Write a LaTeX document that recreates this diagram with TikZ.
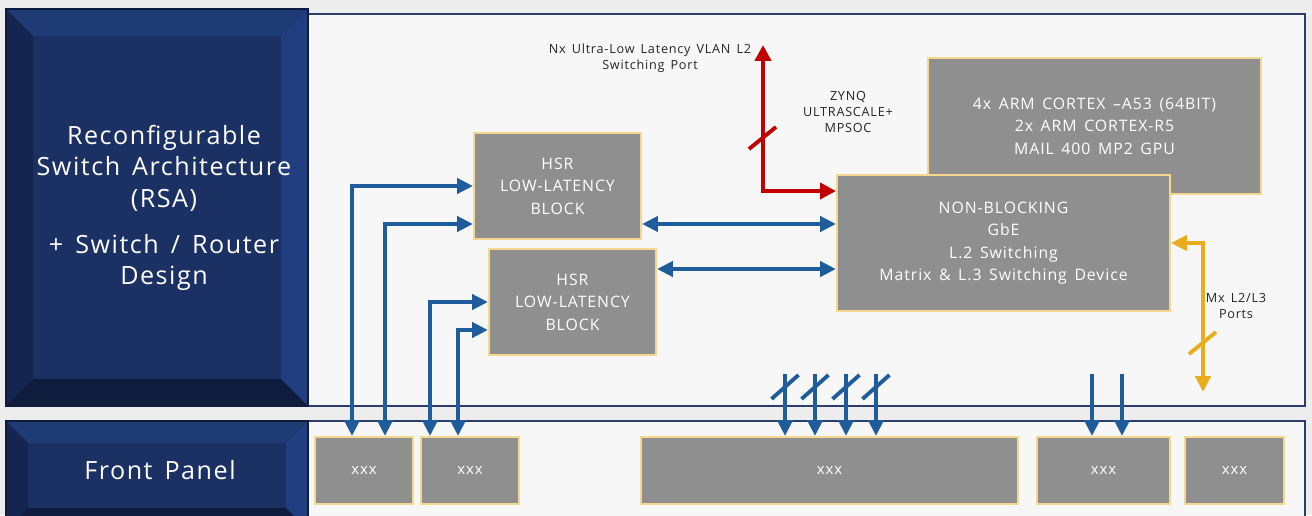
\documentclass[tikz,border=0pt]{standalone}
\usepackage{fontspec}
\setmainfont{Open Sans}[LetterSpace=6, WordSpace=1.5]
\usetikzlibrary{arrows.meta}

\definecolor{navy}{HTML}{1B3163}
\definecolor{navytop}{HTML}{1F3B76}
\definecolor{navyright}{HTML}{213F80}
\definecolor{navyleft}{HTML}{14254F}
\definecolor{navybottom}{HTML}{0F1C3E}
\definecolor{panelrim}{HTML}{2B3D6B}
\definecolor{boxgray}{HTML}{8F8F8F}
\definecolor{boxrim}{HTML}{F5D78E}
\definecolor{linkblue}{HTML}{1F5C9B}
\definecolor{linkred}{HTML}{C00000}
\definecolor{linkgold}{HTML}{E8AC1C}

\tikzset{
    graybox/.style={draw=boxrim, fill=boxgray, line width=1.2pt, text=white,
        align=center, inner sep=0pt, font=\fontsize{9}{12.8}\selectfont},
    portbox/.style={graybox, minimum height=1.34cm, font=\fontsize{8.5}{10}\selectfont},
    bluelink/.style={draw=linkblue, line width=2.5pt, {Triangle[width=8.5pt,length=9pt]}-{Triangle[width=8.5pt,length=9pt]}},
    bluein/.style={draw=linkblue, line width=2.5pt, -{Triangle[width=8.5pt,length=9pt]}},
    redlink/.style={draw=linkred, line width=2.8pt, {Triangle[width=9pt,length=9pt]}-{Triangle[width=9pt,length=9pt]}},
    goldlink/.style={draw=linkgold, line width=2.5pt, {Triangle[width=8.5pt,length=9pt]}-{Triangle[width=8.5pt,length=9pt]}},
    slash/.style={line width=2.2pt},
    smalllabel/.style={align=center, text=black!85, font=\fontsize{7.2}{9}\selectfont},
    titletext/.style={text=white, align=center, font=\fontsize{14.3}{18}\selectfont}
}

\begin{document}
\begin{tikzpicture}[x=0.02cm, y=-0.02cm]
    \useasboundingbox (0,0) rectangle (1312,515);
    \fill[black!7] (0,0) rectangle (1312,515);

    % panels
    \draw[panelrim, fill=white!97!black, line width=1.2pt] (308,14) rectangle (1305,406);
    \draw[panelrim, fill=white!97!black, line width=1.2pt] (308,421) rectangle (1305,530);

    % bevelled title boxes
    \begin{scope}
        \fill[navy] (6,9) rectangle (308,406);
        \fill[navytop] (6,9) -- (308,9) -- (281,36) -- (33,36) -- cycle;
        \fill[navyright] (308,9) -- (308,406) -- (281,379) -- (281,36) -- cycle;
        \fill[navyleft] (6,9) -- (33,36) -- (33,379) -- (6,406) -- cycle;
        \fill[navybottom] (6,406) -- (33,379) -- (281,379) -- (308,406) -- cycle;
        \draw[navybottom, line width=0.8pt] (6,9) rectangle (308,406);

        \fill[navy] (6,421) rectangle (308,530);
        \fill[navytop] (6,421) -- (308,421) -- (286,443) -- (28,443) -- cycle;
        \fill[navyright] (308,421) -- (308,530) -- (286,508) -- (286,443) -- cycle;
        \fill[navyleft] (6,421) -- (28,443) -- (28,508) -- (6,530) -- cycle;
        \fill[navybottom] (6,530) -- (28,508) -- (286,508) -- (308,530) -- cycle;
        \draw[navybottom, line width=0.8pt] (6,421) rectangle (308,530);
    \end{scope}

    \node (rsa) [titletext] at (164,208)
        {Reconfigurable\\Switch Architecture\\(RSA)\\[8pt]+ Switch / Router\\Design};
    \node (front) [titletext] at (160,470) {Front Panel};

    % blocks
    \node (arm) [graybox, minimum width=6.66cm, minimum height=2.72cm] at (1094.5,126)
        {4x ARM CORTEX –A53 (64BIT)\\2x ARM CORTEX-R5\\MAIL 400 MP2 GPU};
    \node (nb) [graybox, minimum width=6.66cm, minimum height=2.72cm] at (1003.5,243)
        {NON-BLOCKING\\GbE\\L.2 Switching\\Matrix \& L.3 Switching Device};
    \node (hsrA) [graybox, minimum width=3.34cm, minimum height=2.12cm] at (557.5,186)
        {HSR\\LOW-LATENCY\\BLOCK};
    \node (hsrB) [graybox, minimum width=3.34cm, minimum height=2.12cm] at (572.5,302)
        {HSR\\LOW-LATENCY\\BLOCK};

    \node (xxxA) [portbox, minimum width=1.96cm] at (364,470.5) {xxx};
    \node (xxxB) [portbox, minimum width=1.96cm] at (470,470.5) {xxx};
    \node (xxxC) [portbox, minimum width=7.54cm] at (829.5,470.5) {xxx};
    \node (xxxD) [portbox, minimum width=2.66cm] at (1103.5,470.5) {xxx};
    \node (xxxE) [portbox, minimum width=1.98cm] at (1234.5,470.5) {xxx};

    % labels
    \node (nxlabel) [smalllabel] at (650,58) {Nx Ultra-Low Latency VLAN L2\\Switching Port};
    \node (zynq) [smalllabel] at (848,112) {ZYNQ\\ULTRASCALE+\\MPSOC};
    \node (mxlabel) [smalllabel] at (1236,306) {Mx L2/L3\\Ports};

    % front panel to HSR blocks
    \path[bluelink] ([xshift=-0.24cm]xxxA.north) |- (hsrA.west);
    \path[bluelink] ([xshift=0.42cm]xxxA.north) |- ([yshift=-0.76cm]hsrA.west);
    \path[bluelink] ([xshift=-0.8cm]xxxB.north) |- (hsrB.west);
    \path[bluelink] ([xshift=-0.24cm]xxxB.north) |- ([yshift=-0.56cm]hsrB.west);

    % HSR blocks to switch
    \coordinate (hA) at ([yshift=-0.76cm]hsrA.east);
    \coordinate (hB) at ([yshift=0.66cm]hsrB.east);
    \path[bluelink] (hA) -- (hA -| nb.west);
    \path[bluelink] (hB) -- (hB -| nb.west);

    % Nx ports
    \coordinate (nxend) at (763,45);
    \path[redlink] (nxend) |- ([yshift=1.04cm]nb.west);
    \draw[linkred, slash] (749,149) -- (776,127);

    % Mx ports
    \coordinate (mxend) at (1203,392);
    \path[goldlink] (nb.east) -| (mxend);
    \draw[linkgold, slash] (1189,354) -- (1216,332);

    % switch to front panel
    \foreach \dx in {-0.89,-0.29,0.33,0.93} {
        \coordinate (top) at ([xshift=\dx cm, yshift=1.24cm]xxxC.north);
        \path[bluein] (top) -- ([xshift=\dx cm]xxxC.north);
        \draw[linkblue, slash] ([xshift=-0.27cm, yshift=-0.5cm]top) -- ([xshift=0.27cm, yshift=-0.02cm]top);
    }
    \foreach \dx in {-0.23,0.37} {
        \coordinate (top) at ([xshift=\dx cm, yshift=1.24cm]xxxD.north);
        \path[bluein] (top) -- ([xshift=\dx cm]xxxD.north);
    }
\end{tikzpicture}
\end{document}
